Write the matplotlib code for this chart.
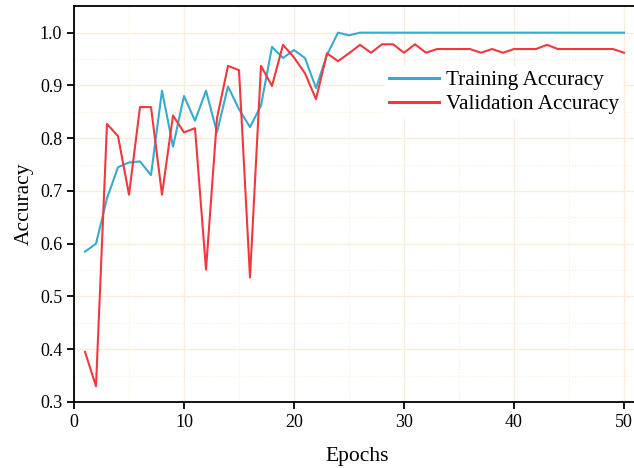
import matplotlib.pyplot as plt
from matplotlib.ticker import MultipleLocator

epochs = list(range(1, 51))
train_acc = [0.585, 0.600, 0.686, 0.745, 0.754, 0.756, 0.730, 0.890, 0.784, 0.880,
             0.833, 0.890, 0.811, 0.898, 0.855, 0.821, 0.862, 0.973, 0.952, 0.967,
             0.952, 0.895, 0.958, 1.000, 0.995] + [1.0] * 25
val_acc = [0.395, 0.330, 0.827, 0.804, 0.693, 0.859, 0.859, 0.693, 0.843, 0.811,
           0.819, 0.551, 0.838, 0.937, 0.929, 0.536, 0.937, 0.899, 0.977, 0.953,
           0.923, 0.874, 0.961, 0.946, 0.961, 0.977, 0.962, 0.978, 0.978, 0.962,
           0.978, 0.962, 0.969, 0.969, 0.969, 0.969, 0.962, 0.969, 0.962, 0.969,
           0.969, 0.969, 0.977, 0.969, 0.969, 0.969, 0.969, 0.969, 0.969, 0.962]

plt.rcParams['font.family'] = ['Liberation Serif', 'DejaVu Serif']

fig = plt.figure(figsize=(6.34, 4.68), dpi=100)
ax = fig.add_axes([74/634, 1 - 402/468, 566/634, 396/468])

ax.plot(epochs, train_acc, color='#35abd0', lw=1.5, label='Training Accuracy')
ax.plot(epochs, val_acc, color='#f0383e', lw=1.5, label='Validation Accuracy')

ax.set_xlim(0, 566 / 11)
ax.set_ylim(0.3, 1.0 + 26.7 / 528)
ax.xaxis.set_major_locator(MultipleLocator(10))
ax.xaxis.set_minor_locator(MultipleLocator(5))
ax.yaxis.set_major_locator(MultipleLocator(0.1))
ax.yaxis.set_minor_locator(MultipleLocator(0.05))
ax.yaxis.set_major_formatter(lambda v, pos: f"{v:.1f}")

ax.grid(which='major', color='#fbecd6', lw=0.9)
ax.grid(which='minor', color='#fbf0dc', lw=0.8, ls=':')
ax.set_axisbelow(True)

for s in ['left', 'bottom', 'top']:
    ax.spines[s].set_linewidth(1.3)
    ax.spines[s].set_color('black')
ax.spines['right'].set_visible(False)

ax.tick_params(which='major', direction='out', length=5, width=1.3, labelsize=13, colors='black')
ax.tick_params(which='minor', length=0)

ax.set_xlabel('Epochs', fontsize=15.5, labelpad=12)
ax.set_ylabel('Accuracy', fontsize=15.5, labelpad=4)

leg = ax.legend(loc='upper left', bbox_to_anchor=(0.531, 0.875), fontsize=15.3,
                frameon=True, facecolor='white', edgecolor='none', framealpha=1,
                handlelength=2.35, handletextpad=0.3, borderpad=0.2, labelspacing=0.2)
for line in leg.get_lines():
    line.set_linewidth(2.2)

fig.savefig('out.png', dpi=100)
